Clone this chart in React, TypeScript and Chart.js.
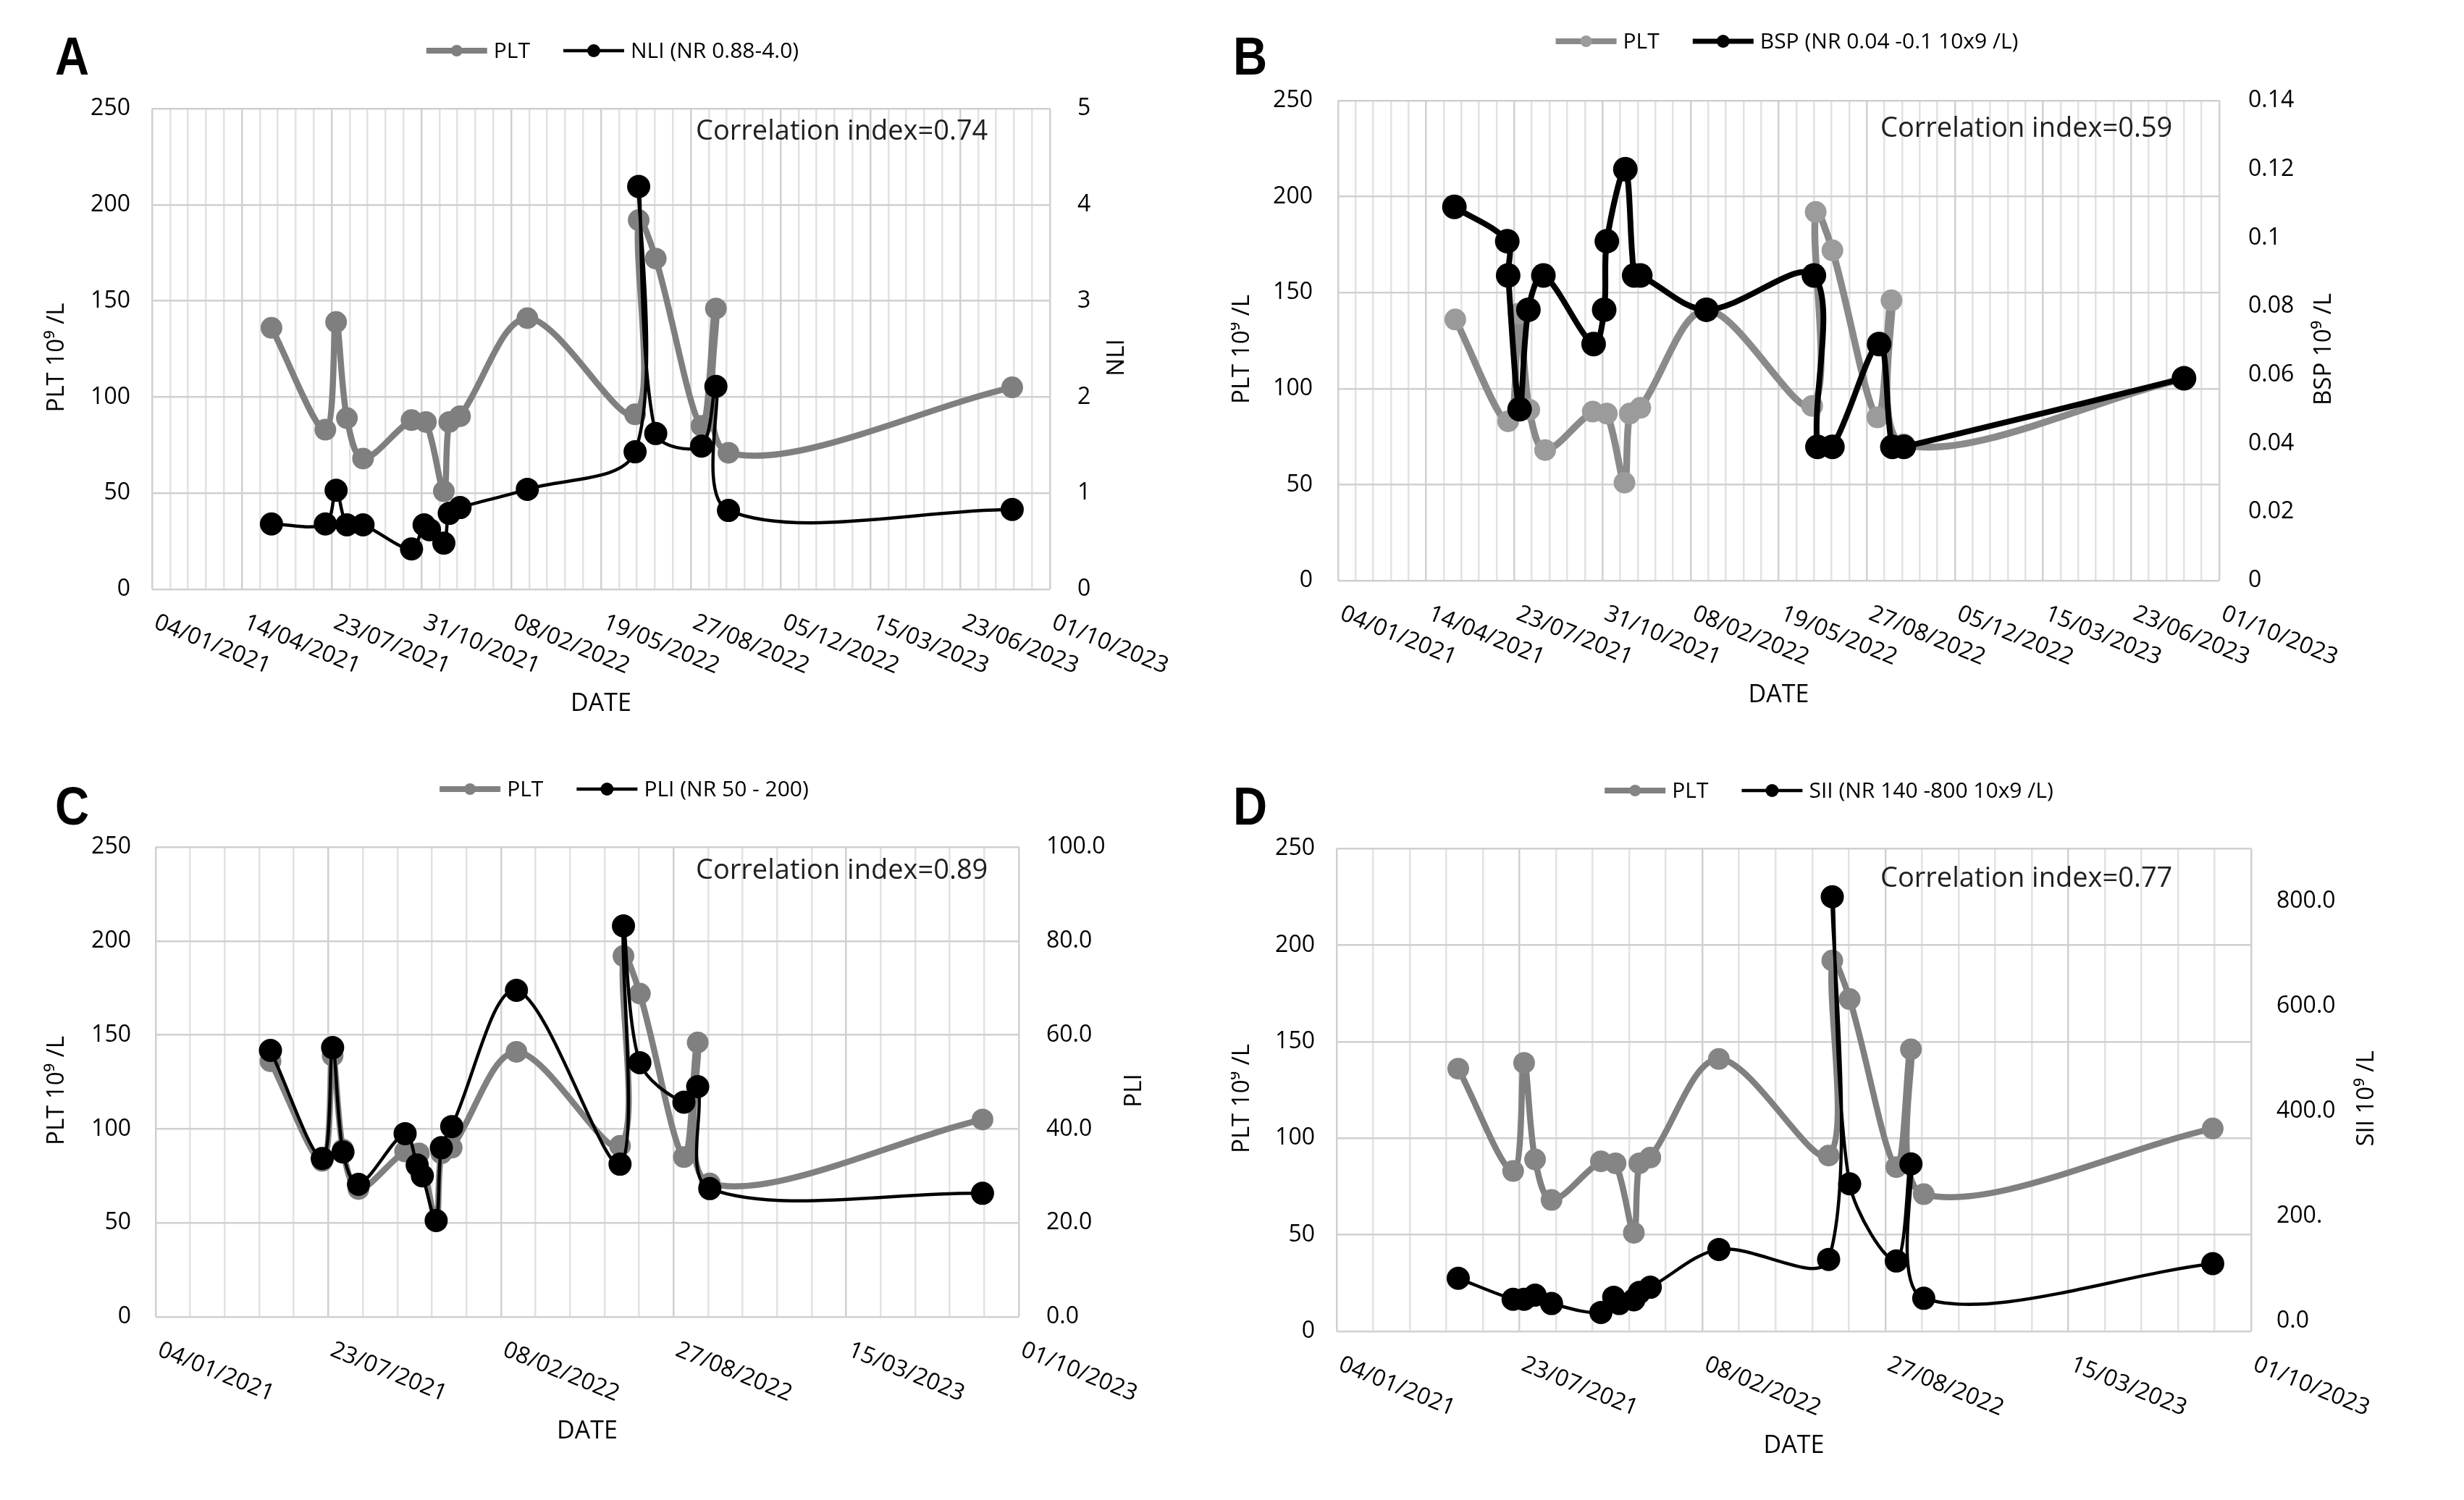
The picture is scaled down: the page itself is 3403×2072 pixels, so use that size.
import React, { useEffect, useRef } from "react";
import { Chart, registerables } from "chart.js";

Chart.register(...registerables);

const FONT = "'Open Sans', 'Noto Sans', 'DejaVu Sans', sans-serif";

// ---- X axis (Excel serial day numbers) ----
const xMin = 44200;
const xMax = 45200;
const xTickValues100 = [44200, 44300, 44400, 44500, 44600, 44700, 44800, 44900, 45000, 45100, 45200];
const xTickLabels100 = [
  "04/01/2021", "14/04/2021", "23/07/2021", "31/10/2021", "08/02/2022", "19/05/2022",
  "27/08/2022", "05/12/2022", "15/03/2023", "23/06/2023", "01/10/2023",
];
const xTickValues200 = [44200, 44400, 44600, 44800, 45000, 45200];
const xTickLabels200 = ["04/01/2021", "23/07/2021", "08/02/2022", "27/08/2022", "15/03/2023", "01/10/2023"];

// ---- Data ----
const pltDates = [44333, 44393, 44405, 44417, 44435, 44489, 44505, 44525, 44531, 44543, 44618, 44738, 44742, 44761, 44812, 44828, 44842, 45158];
const pltValues = [136, 83, 139, 89, 68, 88, 87, 51, 87, 90, 141, 91, 192, 172, 85, 146, 71, 105];

const indexDates = [44333, 44393, 44405, 44417, 44435, 44489, 44503, 44509, 44525, 44531, 44543, 44618, 44738, 44742, 44761, 44812, 44828, 44842, 45158];
const nliValues = [0.68, 0.68, 1.03, 0.67, 0.67, 0.42, 0.67, 0.62, 0.48, 0.79, 0.85, 1.04, 1.43, 4.19, 1.62, 1.49, 2.11, 0.82, 0.83];
const pliValues = [56.7, 33.7, 57.3, 35.1, 28.2, 39.0, 32.3, 30.0, 20.5, 36.0, 40.5, 69.5, 32.5, 83.2, 54.1, 45.7, 49.0, 27.3, 26.3];
const siiValues = [81, 41, 41, 49, 33, 16, 45, 33, 40, 54, 64, 136, 117, 808, 261, 114, 299, 43, 109];

const bspDates = [44332, 44392, 44393, 44406, 44416, 44433, 44490, 44502, 44505, 44526, 44536, 44543, 44618, 44740, 44744, 44761, 44814, 44829, 44842, 45160];
const bspValues = [0.109, 0.099, 0.089, 0.05, 0.079, 0.089, 0.069, 0.079, 0.099, 0.12, 0.089, 0.089, 0.079, 0.089, 0.039, 0.039, 0.069, 0.039, 0.039, 0.059];

// ---- Y ticks ----
const pltTicks = [0, 50, 100, 150, 200, 250];
const pltTickLabels = ["0", "50", "100", "150", "200", "250"];
const nliTicks = [0, 1, 2, 3, 4, 5];
const nliTickLabels = ["0", "1", "2", "3", "4", "5"];
const bspTicks = [0, 0.02, 0.04, 0.06, 0.08, 0.1, 0.12, 0.14];
const bspTickLabels = ["0", "0.02", "0.04", "0.06", "0.08", "0.1", "0.12", "0.14"];
const pliTicks = [0, 20, 40, 60, 80, 100];
const pliTickLabels = ["0.0", "20.0", "40.0", "60.0", "80.0", "100.0"];
const siiTicks = [0, 200, 400, 600, 800];
const siiTickLabels = ["0.0", "200.", "400.0", "600.0", "800.0"];

function gridValues(step: number) {
  const out: number[] = [];
  for (let v = xMin; v <= xMax; v += step) out.push(v);
  return out;
}

type Spec = {
  key: string;
  letter: string;
  left: number;
  top: number;
  width: number;
  height: number;
  plot: { left: number; right: number; top: number; bottom: number };
  leftPad: number;
  rightPad: number;
  minorStep: number;
  majorStep: number;
  xTicks: number[];
  xLabels: string[];
  idxDates: number[];
  idxValues: number[];
  idxLegend: string;
  rightTitle: string;
  rMin: number;
  rMax: number;
  rTicks: number[];
  rLabels: string[];
  corr: string;
  corrX: number;
  corrY: number;
  letterX: number;
  legendCX: number;
  legendY: number;
  leftTitleX: number;
  rightTitleX: number;
  grayLine: string;
  grayMarker: string;
  grayW: number;
  grayR: number;
  blackW: number;
  blackR: number;
};

const panels: Spec[] = [
  {
    key: "A", letter: "A", left: 0, top: 0, width: 1700, height: 1036,
    plot: { left: 210, right: 1450, top: 150, bottom: 814 },
    leftPad: 30, rightPad: 38, minorStep: 20, majorStep: 100,
    xTicks: xTickValues100, xLabels: xTickLabels100,
    idxDates: indexDates, idxValues: nliValues, idxLegend: "NLI (NR 0.88-4.0)",
    rightTitle: "NLI", rMin: 0, rMax: 5, rTicks: nliTicks, rLabels: nliTickLabels,
    corr: "Correlation index=0.74", corrX: 961, corrY: 182,
    letterX: 76, legendCX: 846, legendY: 70, leftTitleX: 79, rightTitleX: 1543,
    grayLine: "#7f7f7f", grayMarker: "#7f7f7f", grayW: 8.5, grayR: 15, blackW: 4.5, blackR: 16,
  },
  {
    key: "B", letter: "B", left: 1700, top: 0, width: 1703, height: 1036,
    plot: { left: 148, right: 1365, top: 139, bottom: 802 },
    leftPad: 35, rightPad: 40, minorStep: 20, majorStep: 100,
    xTicks: xTickValues100, xLabels: xTickLabels100,
    idxDates: bspDates, idxValues: bspValues, idxLegend: "BSP (NR 0.04 -0.1 10x9 /L)",
    rightTitle: "BSP 10⁹ /L", rMin: 0, rMax: 0.14, rTicks: bspTicks, rLabels: bspTickLabels,
    corr: "Correlation index=0.59", corrX: 897, corrY: 178,
    letterX: 3, legendCX: 768, legendY: 57, leftTitleX: 16, rightTitleX: 1510,
    grayLine: "#8a8a8a", grayMarker: "#9b9b9b", grayW: 9.5, grayR: 15, blackW: 8, blackR: 17,
  },
  {
    key: "C", letter: "C", left: 0, top: 1036, width: 1700, height: 1036,
    plot: { left: 215, right: 1407, top: 134, bottom: 783 },
    leftPad: 34, rightPad: 38, minorStep: 40, majorStep: 200,
    xTicks: xTickValues200, xLabels: xTickLabels200,
    idxDates: indexDates, idxValues: pliValues, idxLegend: "PLI (NR 50 - 200)",
    rightTitle: "PLI", rMin: 0, rMax: 100, rTicks: pliTicks, rLabels: pliTickLabels,
    corr: "Correlation index=0.89", corrX: 961, corrY: 167,
    letterX: 76, legendCX: 862, legendY: 54, leftTitleX: 79, rightTitleX: 1567,
    grayLine: "#808080", grayMarker: "#808080", grayW: 8.5, grayR: 15, blackW: 4.5, blackR: 16,
  },
  {
    key: "D", letter: "D", left: 1700, top: 1036, width: 1703, height: 1036,
    plot: { left: 146, right: 1409, top: 136, bottom: 803 },
    leftPad: 30, rightPad: 35, minorStep: 40, majorStep: 200,
    xTicks: xTickValues200, xLabels: xTickLabels200,
    idxDates: indexDates, idxValues: siiValues, idxLegend: "SII (NR 140 -800 10x9 /L)",
    rightTitle: "SII 10⁹ /L", rMin: -20, rMax: 900, rTicks: siiTicks, rLabels: siiTickLabels,
    corr: "Correlation index=0.77", corrX: 897, corrY: 178,
    letterX: 3, legendCX: 826, legendY: 56, leftTitleX: 16, rightTitleX: 1569,
    grayLine: "#808080", grayMarker: "#858585", grayW: 8.5, grayR: 15, blackW: 4.5, blackR: 16,
  },
];

function makeOverlay(s: Spec) {
  return {
    id: "overlay" + s.key,
    afterDraw(chart: any) {
      const ctx: CanvasRenderingContext2D = chart.ctx;
      const a = chart.chartArea;
      const xs = chart.scales.x;
      ctx.save();
      ctx.fillStyle = "#000";

      // rotated date labels
      ctx.font = `32px ${FONT}`;
      ctx.textAlign = "left";
      ctx.textBaseline = "alphabetic";
      s.xTicks.forEach((v, i) => {
        const px = xs.getPixelForValue(v);
        ctx.save();
        ctx.translate(px + 1, a.bottom + 53);
        ctx.rotate((22 * Math.PI) / 180);
        ctx.fillText(s.xLabels[i], 0, 0);
        ctx.restore();
      });

      // DATE title
      ctx.font = `34px ${FONT}`;
      ctx.textAlign = "center";
      ctx.textBaseline = "middle";
      ctx.fillText("DATE", (a.left + a.right) / 2, a.bottom + 158);

      // axis titles
      const cy = (a.top + a.bottom) / 2 + 12;
      ctx.font = `33px ${FONT}`;
      ctx.save();
      ctx.translate(s.leftTitleX, cy);
      ctx.rotate(-Math.PI / 2);
      ctx.fillText("PLT 10⁹ /L", 0, 0);
      ctx.restore();
      ctx.save();
      ctx.translate(s.rightTitleX, cy);
      ctx.rotate(-Math.PI / 2);
      ctx.fillText(s.rightTitle, 0, 0);
      ctx.restore();

      // correlation text
      ctx.font = `38px ${FONT}`;
      ctx.fillStyle = "#1f1f1f";
      ctx.textAlign = "left";
      ctx.fillText(s.corr, s.corrX, s.corrY);

      // panel letter
      ctx.fillStyle = "#000";
      ctx.font = `bold 75px 'Liberation Sans', Arial, sans-serif`;
      ctx.textBaseline = "alphabetic";
      ctx.save();
      ctx.translate(s.letterX, 103);
      ctx.scale(0.87, 1);
      ctx.fillText(s.letter, 0, 0);
      ctx.restore();

      // legend
      ctx.font = `30px ${FONT}`;
      ctx.textBaseline = "middle";
      ctx.textAlign = "left";
      const items = [
        { text: "PLT", line: s.grayLine, marker: s.grayMarker, lw: Math.min(s.grayW, 8), r: 8 },
        { text: s.idxLegend, line: "#000", marker: "#000", lw: Math.max(4.5, s.blackW - 1), r: 9 },
      ];
      const lineLen = 84;
      const gap = 9;
      const between = 46;
      const widths = items.map((it) => ctx.measureText(it.text).width);
      let total = 0;
      items.forEach((it, i) => {
        total += lineLen + gap + widths[i] + (i < items.length - 1 ? between : 0);
      });
      let x = s.legendCX - total / 2;
      const y = s.legendY;
      items.forEach((it, i) => {
        ctx.strokeStyle = it.line;
        ctx.lineWidth = it.lw;
        ctx.beginPath();
        ctx.moveTo(x, y);
        ctx.lineTo(x + lineLen, y);
        ctx.stroke();
        ctx.fillStyle = it.marker;
        ctx.beginPath();
        ctx.arc(x + lineLen / 2, y, it.r, 0, Math.PI * 2);
        ctx.fill();
        ctx.fillStyle = "#000";
        ctx.fillText(it.text, x + lineLen + gap, y + 1);
        x += lineLen + gap + widths[i] + between;
      });

      ctx.restore();
    },
  };
}

function Panel({ s }: { s: Spec }) {
  const ref = useRef<HTMLCanvasElement | null>(null);
  useEffect(() => {
    if (!ref.current) return;
    const W = s.width;
    const H = s.height;
    const grid = gridValues(s.minorStep);
    const tickFont = { family: FONT, size: 32 };
    const chart = new Chart(ref.current, {
      type: "line",
      data: {
        datasets: [
          {
            label: "PLT",
            data: pltDates.map((d, i) => ({ x: d, y: pltValues[i] })),
            yAxisID: "y",
            borderColor: s.grayLine,
            backgroundColor: s.grayMarker,
            pointBackgroundColor: s.grayMarker,
            pointBorderWidth: 0,
            pointRadius: s.grayR,
            borderWidth: s.grayW,
            tension: 0.33,
            order: 2,
          },
          {
            label: s.idxLegend,
            data: s.idxDates.map((d, i) => ({ x: d, y: s.idxValues[i] })),
            yAxisID: "y1",
            borderColor: "#000",
            backgroundColor: "#000",
            pointBackgroundColor: "#000",
            pointBorderWidth: 0,
            pointRadius: s.blackR,
            borderWidth: s.blackW,
            tension: 0.33,
            order: 1,
          },
        ],
      },
      options: {
        animation: false,
        responsive: false,
        devicePixelRatio: 1,
        events: [],
        layout: { padding: { top: s.plot.top, left: 0, right: 0, bottom: 0 }, autoPadding: false },
        plugins: { legend: { display: false }, tooltip: { enabled: false }, title: { display: false } },
        scales: {
          x: {
            type: "linear",
            min: xMin,
            max: xMax,
            afterBuildTicks: (sc: any) => {
              sc.ticks = grid.map((v) => ({ value: v }));
            },
            ticks: { display: false, autoSkip: false },
            grid: {
              color: (c: any) =>
                c.tick && (c.tick.value - xMin) % s.majorStep === 0 ? "#d0d0d0" : "#e2e2e2",
              lineWidth: 2.5,
              drawTicks: false,
            },
            border: { display: false },
            afterFit: (sc: any) => {
              sc.height = H - s.plot.bottom;
            },
          },
          y: {
            type: "linear",
            position: "left",
            min: 0,
            max: 250,
            afterBuildTicks: (sc: any) => {
              sc.ticks = pltTicks.map((v) => ({ value: v }));
            },
            ticks: {
              font: tickFont,
              color: "#000",
              padding: s.leftPad,
              callback: (_v: any, i: number) => pltTickLabels[i],
            },
            grid: { color: "#d0d0d0", lineWidth: 2.5, drawTicks: false },
            border: { display: false },
            afterFit: (sc: any) => {
              sc.width = s.plot.left;
            },
          },
          y1: {
            type: "linear",
            position: "right",
            min: s.rMin,
            max: s.rMax,
            afterBuildTicks: (sc: any) => {
              sc.ticks = s.rTicks.map((v) => ({ value: v }));
            },
            ticks: {
              font: tickFont,
              color: "#000",
              padding: s.rightPad,
              callback: (_v: any, i: number) => s.rLabels[i],
            },
            grid: { display: false, drawTicks: false },
            border: { display: false },
            afterFit: (sc: any) => {
              sc.width = W - s.plot.right;
            },
          },
        },
      } as any,
      plugins: [makeOverlay(s)],
    });
    return () => chart.destroy();
  }, [s]);
  return (
    <canvas
      ref={ref}
      width={s.width}
      height={s.height}
      style={{ position: "absolute", left: s.left, top: s.top, width: s.width, height: s.height }}
    />
  );
}

export default function App() {
  return (
    <div
      style={{
        position: "absolute",
        left: 0,
        top: 0,
        width: 3403,
        height: 2072,
        background: "#fff",
        overflow: "hidden",
      }}
    >
      {panels.map((s) => (
        <Panel key={s.key} s={s} />
      ))}
    </div>
  );
}
